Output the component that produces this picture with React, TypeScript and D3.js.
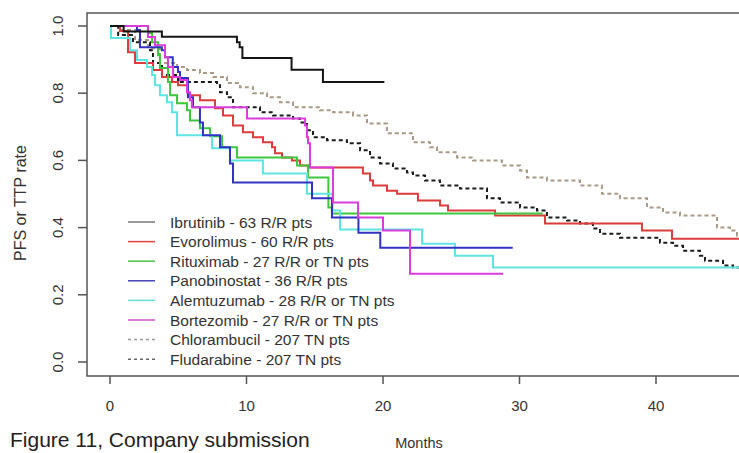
import React, { useEffect, useRef } from 'react';
import * as d3 from 'd3';

// Kaplan-Meier style step data: [months, rate]
const ibrutinib = [[0, 1], [1, 0.984], [3.8, 0.968], [9.3, 0.952], [9.5, 0.937], [9.7, 0.905], [13.3, 0.87], [15.6, 0.833], [20.1, 0.833]];
const evorolimus = [[0, 1], [0.73, 0.985], [1.32, 0.922], [1.83, 0.89], [3.15, 0.869], [3.81, 0.848], [4.54, 0.833], [4.98, 0.824], [5.71, 0.794], [6.59, 0.779], [7.69, 0.755], [8.28, 0.734], [9.01, 0.704], [9.74, 0.684], [10.48, 0.669], [11.21, 0.654], [11.87, 0.639], [12.09, 0.621], [12.6, 0.609], [13.33, 0.6], [13.92, 0.585], [14.51, 0.579], [18.53, 0.561], [19.05, 0.54], [19.27, 0.525], [20.29, 0.51], [21.03, 0.501], [22.56, 0.481], [24.18, 0.466], [24.76, 0.451], [28.21, 0.436], [31.87, 0.412], [38.97, 0.391], [41.17, 0.367], [47, 0.367]];
const rituximab = [[0, 1], [2.78, 0.979], [3.08, 0.952], [3.52, 0.913], [3.66, 0.875], [4.25, 0.833], [4.4, 0.794], [4.91, 0.77], [5.64, 0.749], [5.86, 0.719], [6.59, 0.696], [7.33, 0.672], [8.21, 0.639], [9.3, 0.609], [13.7, 0.585], [14.5, 0.549], [16.0, 0.46], [16.26, 0.442], [31.7, 0.442]];
const panobinostat = [[0, 1], [1.98, 0.988], [2.2, 0.937], [3.8, 0.928], [4.03, 0.907], [4.6, 0.878], [4.98, 0.863], [5.13, 0.845], [5.71, 0.788], [6.08, 0.758], [6.59, 0.713], [6.81, 0.675], [8.06, 0.639], [8.79, 0.591], [9.01, 0.534], [14.8, 0.487], [16.26, 0.43], [18.2, 0.385], [19.8, 0.34], [29.5, 0.34]];
const alemtuzumab = [[0, 1], [0.07, 0.964], [1.47, 0.928], [1.98, 0.899], [2.71, 0.878], [3.08, 0.854], [3.3, 0.824], [3.66, 0.794], [4.18, 0.773], [4.54, 0.743], [4.91, 0.675], [7.47, 0.636], [8.79, 0.6], [11.2, 0.561], [14.43, 0.501], [16.3, 0.451], [16.85, 0.394], [22.86, 0.352], [25.27, 0.316], [28.06, 0.281], [47, 0.281]];
const bortezomib = [[0, 1], [2.78, 0.967], [3.3, 0.943], [4.03, 0.907], [4.25, 0.878], [4.62, 0.848], [5.13, 0.839], [5.64, 0.803], [5.86, 0.779], [6.0, 0.758], [10.04, 0.725], [14.29, 0.704], [14.43, 0.669], [14.51, 0.651], [14.65, 0.579], [16.34, 0.475], [18.17, 0.43], [20.0, 0.391], [21.98, 0.263], [28.8, 0.263]];
const chlorambucil = [[0, 1], [0.73, 0.988], [1.83, 0.958], [2.78, 0.934], [3.66, 0.89], [4.91, 0.878], [5.64, 0.869], [6.59, 0.86], [7.55, 0.848], [8.57, 0.83], [9.52, 0.818], [10.48, 0.8], [11.5, 0.788], [12.45, 0.773], [13.41, 0.758], [15.38, 0.749], [16.34, 0.743], [17.8, 0.734], [18.83, 0.71], [20.29, 0.681], [22.2, 0.654], [23.44, 0.639], [23.96, 0.624], [25.42, 0.609], [26.59, 0.6], [28.72, 0.585], [30.04, 0.57], [30.55, 0.549], [32.01, 0.54], [34.43, 0.525], [36.04, 0.501], [37.36, 0.487], [39.34, 0.46], [40.51, 0.445], [41.76, 0.436], [44.47, 0.4], [45.42, 0.391], [45.93, 0.376], [46.5, 0.361], [47, 0.361]];
const fludarabine = [[0, 1], [0.6, 0.973], [1.68, 0.952], [2.93, 0.928], [3.15, 0.89], [3.81, 0.854], [4.98, 0.833], [7.84, 0.824], [8.06, 0.803], [8.57, 0.788], [9.01, 0.758], [10.99, 0.743], [11.94, 0.734], [13.41, 0.725], [13.92, 0.713], [14.43, 0.69], [14.87, 0.669], [15.9, 0.66], [17.36, 0.651], [18.32, 0.63], [19.05, 0.609], [19.78, 0.591], [20.73, 0.576], [21.76, 0.564], [22.2, 0.555], [23.08, 0.54], [24.18, 0.525], [25.64, 0.516], [27.62, 0.487], [28.57, 0.475], [30.04, 0.46], [31.28, 0.451], [32.01, 0.43], [33.48, 0.421], [34.43, 0.412], [35.38, 0.397], [35.9, 0.382], [37.36, 0.37], [40.29, 0.355], [41.25, 0.346], [41.98, 0.331], [43.22, 0.316], [43.59, 0.301], [44.91, 0.287], [45.64, 0.281], [47, 0.281]];

const legendLabels = [
  'Ibrutinib - 63 R/R pts',
  'Evorolimus - 60 R/R pts',
  'Rituximab - 27 R/R or TN pts',
  'Panobinostat - 36 R/R pts',
  'Alemtuzumab - 28 R/R or TN pts',
  'Bortezomib - 27 R/R or TN pts',
  'Chlorambucil - 207 TN pts',
  'Fludarabine - 207 TN pts',
];
const xTicks = [0, 10, 20, 30, 40];
const yTicks = [0, 0.2, 0.4, 0.6, 0.8, 1.0];

const series = [
  { data: ibrutinib, color: '#151515', legendColor: '#777', dash: null },
  { data: evorolimus, color: '#dd3c3c', legendColor: '#dd4444', dash: null },
  { data: rituximab, color: '#3fc63f', legendColor: '#44c444', dash: null },
  { data: panobinostat, color: '#3232c4', legendColor: '#4444bb', dash: null },
  { data: alemtuzumab, color: '#5fe3e3', legendColor: '#66dddd', dash: null },
  { data: bortezomib, color: '#dc3cdc', legendColor: '#cc55cc', dash: null },
  { data: chlorambucil, color: '#a89a86', legendColor: '#999', dash: '4,3' },
  { data: fludarabine, color: '#1c1c1c', legendColor: '#666', dash: '4,3' },
];

const W = 739;
const H = 453;

const App = () => {
  const ref = useRef<SVGSVGElement>(null);

  useEffect(() => {
    const svg = d3.select(ref.current);
    svg.selectAll('*').remove();

    const x = d3.scaleLinear().domain([0, 40]).range([110, 656]);
    const y = d3.scaleLinear().domain([0, 1]).range([362, 26]);
    const font = 'Liberation Sans, Arial, sans-serif';
    const axisColor = '#555';

    // plot box (right side runs off the picture)
    svg.append('rect')
      .attr('x', 87).attr('y', 13)
      .attr('width', 680).attr('height', 363)
      .attr('fill', 'none').attr('stroke', axisColor).attr('stroke-width', 1.5);

    // y axis
    yTicks.forEach(t => {
      svg.append('line')
        .attr('x1', 78).attr('x2', 87)
        .attr('y1', y(t)).attr('y2', y(t))
        .attr('stroke', axisColor).attr('stroke-width', 1.5);
      svg.append('text')
        .attr('transform', `translate(63,${y(t)}) rotate(-90)`)
        .attr('text-anchor', 'middle')
        .style('font-family', font).style('font-size', '15px').style('fill', '#333')
        .text(t.toFixed(1));
    });

    // x axis
    xTicks.forEach(t => {
      svg.append('line')
        .attr('x1', x(t)).attr('x2', x(t))
        .attr('y1', 376).attr('y2', 384)
        .attr('stroke', axisColor).attr('stroke-width', 1.5);
      svg.append('text')
        .attr('x', x(t)).attr('y', 411)
        .attr('text-anchor', 'middle')
        .style('font-family', font).style('font-size', '15px').style('fill', '#333')
        .text(t);
    });

    svg.append('text')
      .attr('transform', `translate(26,${(y(0) + y(1)) / 2 + 9}) rotate(-90)`)
      .attr('text-anchor', 'middle')
      .style('font-family', font).style('font-size', '16px').style('fill', '#333')
      .text('PFS or TTP rate');

    svg.append('text')
      .attr('x', 419).attr('y', 448)
      .attr('text-anchor', 'middle')
      .style('font-family', font).style('font-size', '14.5px').style('fill', '#333')
      .text('Months');

    svg.append('text')
      .attr('x', 10).attr('y', 447)
      .style('font-family', font).style('font-size', '21px').style('fill', '#222')
      .text('Figure 11, Company submission');

    // curves
    const line = d3.line<number[]>()
      .x(d => x(d[0]))
      .y(d => y(d[1]))
      .curve(d3.curveStepAfter);

    const drawOrder = [6, 7, 1, 2, 4, 3, 5, 0];
    drawOrder.forEach(i => {
      const s = series[i];
      svg.append('path')
        .attr('d', line(s.data))
        .attr('fill', 'none')
        .attr('stroke', s.color)
        .attr('stroke-width', 2)
        .attr('stroke-dasharray', s.dash);
    });

    // legend
    legendLabels.forEach((label, i) => {
      const ly = 222 + i * 19.6;
      const s = series[i];
      svg.append('line')
        .attr('x1', 128).attr('x2', 155)
        .attr('y1', ly).attr('y2', ly)
        .attr('stroke', s.legendColor).attr('stroke-width', 1.5)
        .attr('stroke-dasharray', s.dash ? '3,3' : null);
      svg.append('text')
        .attr('x', 170).attr('y', ly + 5.5)
        .style('font-family', font).style('font-size', '15.5px').style('fill', '#333')
        .text(label);
    });
  }, []);

  return (
    <div style={{ position: 'fixed', left: 0, top: 0, background: '#fff' }}>
      <svg ref={ref} width={W} height={H} style={{ display: 'block' }} />
    </div>
  );
};

export default App;
